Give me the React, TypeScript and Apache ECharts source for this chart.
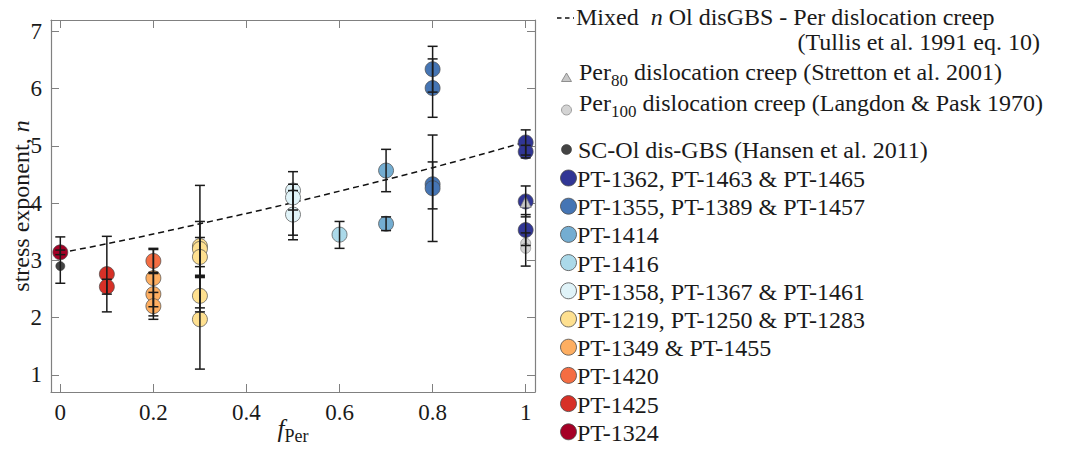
import React, { useEffect, useRef } from "react";
import * as echarts from "echarts";

const FONT = "Liberation Serif";
const TXT = "#1a1a1a";
const AXC = "#808080";

const xTicks = [0, 0.2, 0.4, 0.6, 0.8, 1];
const yTicks = [1, 2, 3, 4, 5, 6, 7];

// Tullis et al. 1991 eq. 10 curve, [fPer, n]
const tullisCurve = [
  [0, 3.13], [0.1, 3.29], [0.2, 3.46], [0.3, 3.64], [0.4, 3.82], [0.5, 4.01],
  [0.6, 4.21], [0.7, 4.41], [0.8, 4.62], [0.9, 4.84], [1, 5.07],
];

// [fPer, n, nLow, nHigh]
const per100 = [[1, 3.3], [1, 3.21, 2.9, 3.48]];
const scOl = [[0, 2.9, 2.6, 3.41]];
const pt1362 = [[1, 5.06, 4.84, 5.28], [1, 4.9, 4.79, 5.01], [1, 4.03, 3.76, 4.3], [1, 3.53, 3.26, 3.8]];
const pt1355 = [[0.8, 6.34, 5.94, 6.74], [0.8, 6.01, 5.5, 6.52], [0.8, 4.33, 3.9, 4.72], [0.8, 4.26, 3.33, 5.19]];
const pt1414 = [[0.7, 4.57, 4.2, 4.94], [0.7, 3.64, 3.52, 3.76]];
const pt1416 = [[0.6, 3.45, 3.21, 3.68]];
const pt1358 = [[0.5, 4.22, 3.88, 4.55], [0.5, 4.1, 3.44, 4.33], [0.5, 3.8, 3.36, 4.22]];
const pt1219 = [[0.3, 3.25, 2.1, 4.31], [0.3, 3.2, 2.74, 3.68], [0.3, 3.06, 2.72, 3.4], [0.3, 2.38, 2.17, 2.89], [0.3, 1.97, 1.1, 2.7]];
const pt1349 = [[0.2, 2.69, 2.19, 3.19], [0.2, 2.41, 2.03, 2.79], [0.2, 2.2, 1.97, 2.44]];
const pt1420 = [[0.2, 2.99, 2.77, 3.21]];
const pt1425 = [[0.1, 2.76, 2.1, 3.42], [0.1, 2.54, 2.41, 2.67]];
const pt1324 = [[0, 3.14, 3.1, 3.18]];
const per80 = [[1, 4.02]];

const groupNames = [
  "PT-1362, PT-1463 & PT-1465",
  "PT-1355, PT-1389 & PT-1457",
  "PT-1414",
  "PT-1416",
  "PT-1358, PT-1367 & PT-1461",
  "PT-1219, PT-1250 & PT-1283",
  "PT-1349 & PT-1455",
  "PT-1420",
  "PT-1425",
  "PT-1324",
];
const groupData = [pt1362, pt1355, pt1414, pt1416, pt1358, pt1219, pt1349, pt1420, pt1425, pt1324];
const groupColors = ["#313695", "#4575b4", "#74add1", "#abd9e9", "#e0f3f8", "#fee090", "#fdae61", "#f46d43", "#d73027", "#a50026"];

const legendTexts = {
  mixed: "{r|Mixed  }{i|n}{r| Ol disGBS - Per dislocation creep}",
  mixed2: "{r|(Tullis et al. 1991 eq. 10)}",
  per80: "{r|Per}{s|80}{r| dislocation creep (Stretton et al. 2001)}",
  per100: "{r|Per}{s|100}{r| dislocation creep (Langdon & Pask 1970)}",
  scOl: "{r|SC-Ol dis-GBS (Hansen et al. 2011)}",
};

export default function App() {
  const ref = useRef<HTMLDivElement>(null);
  useEffect(() => {
    if (!ref.current) return;
    const chart = echarts.init(ref.current, undefined, { renderer: "svg" });

    const plainRich = {
      r: { fontFamily: FONT, fontSize: 24, color: TXT },
      i: { fontFamily: FONT, fontSize: 24, fontStyle: "italic", color: TXT },
    };
    const richSub = {
      r: { fontFamily: FONT, fontSize: 24, lineHeight: 24, verticalAlign: "top", color: TXT },
      s: { fontFamily: FONT, fontSize: 17, lineHeight: 17, padding: [17, 0, 0, 0], color: TXT },
    };
    const baseText = { fontFamily: FONT, fontSize: 24, fill: TXT };

    const allErr = [...scOl, ...per100, ...groupData.flat()].filter((d) => d.length === 4);

    const pointStyle = (c: string) => ({ color: c, borderColor: "#4a4a4a", borderWidth: 0.7, opacity: 1 });

    const series: any[] = [
      {
        type: "line",
        data: tullisCurve,
        smooth: 0.3,
        showSymbol: false,
        symbol: "none",
        lineStyle: { color: "#111", width: 1.5, type: [6, 4] },
        z: 1,
        silent: true,
      },
      {
        type: "scatter",
        data: per100,
        symbol: "circle",
        symbolSize: 10,
        itemStyle: { color: "#d4d4d4", borderColor: "#8a8a8a", borderWidth: 0.7, opacity: 1 },
        z: 2,
      },
      {
        type: "scatter",
        data: scOl,
        symbolSize: 9,
        itemStyle: { color: "#444", borderColor: "#333", borderWidth: 0.5, opacity: 1 },
        z: 2,
      },
    ];
    groupData.forEach((d, i) => {
      series.push({
        type: "scatter",
        name: groupNames[i],
        data: d,
        symbolSize: 15,
        itemStyle: pointStyle(groupColors[i]),
        z: 3,
      });
    });
    series.push({
      type: "scatter",
      data: per80,
      symbol: "triangle",
      symbolSize: 11,
      itemStyle: { color: "#c8c8c8", borderColor: "#7a7a7a", borderWidth: 0.7, opacity: 1 },
      z: 4,
    });
    series.push({
      type: "custom",
      data: allErr,
      encode: { x: 0, y: [2, 3] },
      z: 5,
      silent: true,
      renderItem: (_p: any, api: any) => {
        const x = api.value(0);
        const lo = api.value(2);
        const hi = api.value(3);
        if (lo == null || isNaN(lo)) return null;
        const a = api.coord([x, lo]);
        const b = api.coord([x, hi]);
        const w = 5;
        const st = { stroke: "#1a1a1a", lineWidth: 1.5 };
        return {
          type: "group",
          children: [
            { type: "line", shape: { x1: a[0], y1: a[1], x2: b[0], y2: b[1] }, style: st },
            { type: "line", shape: { x1: a[0] - w, y1: a[1], x2: a[0] + w, y2: a[1] }, style: st },
            { type: "line", shape: { x1: b[0] - w, y1: b[1], x2: b[0] + w, y2: b[1] }, style: st },
          ],
        };
      },
    });

    const graphic: any[] = [
      {
        type: "line",
        shape: { x1: 557, y1: 18, x2: 574, y2: 18 },
        style: { stroke: "#111", lineWidth: 1.4, lineDash: [4.5, 3.5] },
      },
      {
        type: "text",
        x: 576,
        y: 17,
        style: { ...baseText, text: legendTexts.mixed, verticalAlign: "middle", rich: plainRich },
      },
      {
        type: "text",
        x: 1040,
        y: 42,
        style: { ...baseText, text: legendTexts.mixed2, align: "right", verticalAlign: "middle", rich: plainRich },
      },
      {
        type: "polygon",
        shape: { points: [[561.5, 81.5], [571.5, 81.5], [566.5, 73]] },
        style: { fill: "#c8c8c8", stroke: "#7a7a7a", lineWidth: 0.8 },
      },
      { type: "text", x: 579, y: 60, style: { ...baseText, text: legendTexts.per80, verticalAlign: "top", rich: richSub } },
      { type: "circle", shape: { cx: 566.5, cy: 110, r: 5 }, style: { fill: "#d4d4d4", stroke: "#8a8a8a", lineWidth: 0.8 } },
      { type: "text", x: 579, y: 91, style: { ...baseText, text: legendTexts.per100, verticalAlign: "top", rich: richSub } },
      { type: "circle", shape: { cx: 566.5, cy: 149.5, r: 5 }, style: { fill: "#444", stroke: "#333", lineWidth: 0.6 } },
      {
        type: "text",
        x: 578,
        y: 150,
        style: { ...baseText, text: legendTexts.scOl, verticalAlign: "middle", rich: plainRich },
      },
    ];
    groupNames.forEach((n, i) => {
      const cy = 178 + i * 28.2;
      graphic.push({
        type: "circle",
        shape: { cx: 568.5, cy, r: 8 },
        style: { fill: groupColors[i], stroke: "#4a4a4a", lineWidth: 0.8 },
      });
      graphic.push({
        type: "text",
        x: 577,
        y: cy + 1,
        style: { ...baseText, text: "{r|" + n + "}", verticalAlign: "middle", rich: plainRich },
      });
    });

    const tickRich = { t: { fontFamily: FONT, fontSize: 23, color: TXT } };

    const baseX = {
      type: "value",
      min: -0.02,
      max: 1.02,
      splitLine: { show: false },
      axisLine: { show: true, onZero: false, lineStyle: { color: AXC, width: 1.2 } },
      axisTick: { show: true, inside: true, length: 8, customValues: xTicks, lineStyle: { color: AXC, width: 1 } },
    };
    const baseY = {
      type: "value",
      min: 0.7,
      max: 7.2,
      splitLine: { show: false },
      axisLine: { show: true, onZero: false, lineStyle: { color: AXC, width: 1.2 } },
      axisTick: { show: true, inside: true, length: 8, customValues: yTicks, lineStyle: { color: AXC, width: 1 } },
    };

    chart.setOption({
      animation: false,
      backgroundColor: "#ffffff",
      textStyle: { fontFamily: FONT },
      grid: { left: 51, right: 549, top: 20, bottom: 69, containLabel: false, outerBoundsMode: "none" },
      xAxis: [
        {
          ...baseX,
          position: "bottom",
          axisLabel: {
            customValues: xTicks,
            fontFamily: FONT,
            fontSize: 23,
            color: TXT,
            margin: 9,
            formatter: (v: number) => "{t|" + v + "}",
            rich: tickRich,
          },
          name: "{i|f}{s|Per}",
          nameLocation: "middle",
          nameGap: 24,
          nameMoveOverlap: false,
          nameTextStyle: {
            fontFamily: FONT,
            rich: {
              i: { fontFamily: FONT, fontSize: 25, fontStyle: "italic", lineHeight: 24, verticalAlign: "top", color: TXT },
              s: { fontFamily: FONT, fontSize: 18, lineHeight: 18, padding: [16, 0, 0, 0], color: TXT },
            },
          },
        },
        { ...baseX, position: "top", axisLabel: { show: false } },
      ],
      yAxis: [
        {
          ...baseY,
          position: "left",
          axisLabel: {
            customValues: yTicks,
            fontFamily: FONT,
            fontSize: 23,
            color: TXT,
            margin: 9,
            formatter: (v: number) => "{t|" + v + "}",
            rich: tickRich,
          },
          name: "stress exponent, {i|n}",
          nameLocation: "middle",
          nameGap: 18,
          nameMoveOverlap: false,
          nameTextStyle: {
            fontFamily: FONT,
            fontSize: 24,
            color: TXT,
            rich: { i: { fontFamily: FONT, fontSize: 24, fontStyle: "italic", color: TXT } },
          },
        },
        { ...baseY, position: "right", axisLabel: { show: false } },
      ],
      series,
      graphic,
    });
    return () => chart.dispose();
  }, []);
  return <div ref={ref} style={{ position: "absolute", left: 0, top: 0, width: 1084, height: 461 }} />;
}
